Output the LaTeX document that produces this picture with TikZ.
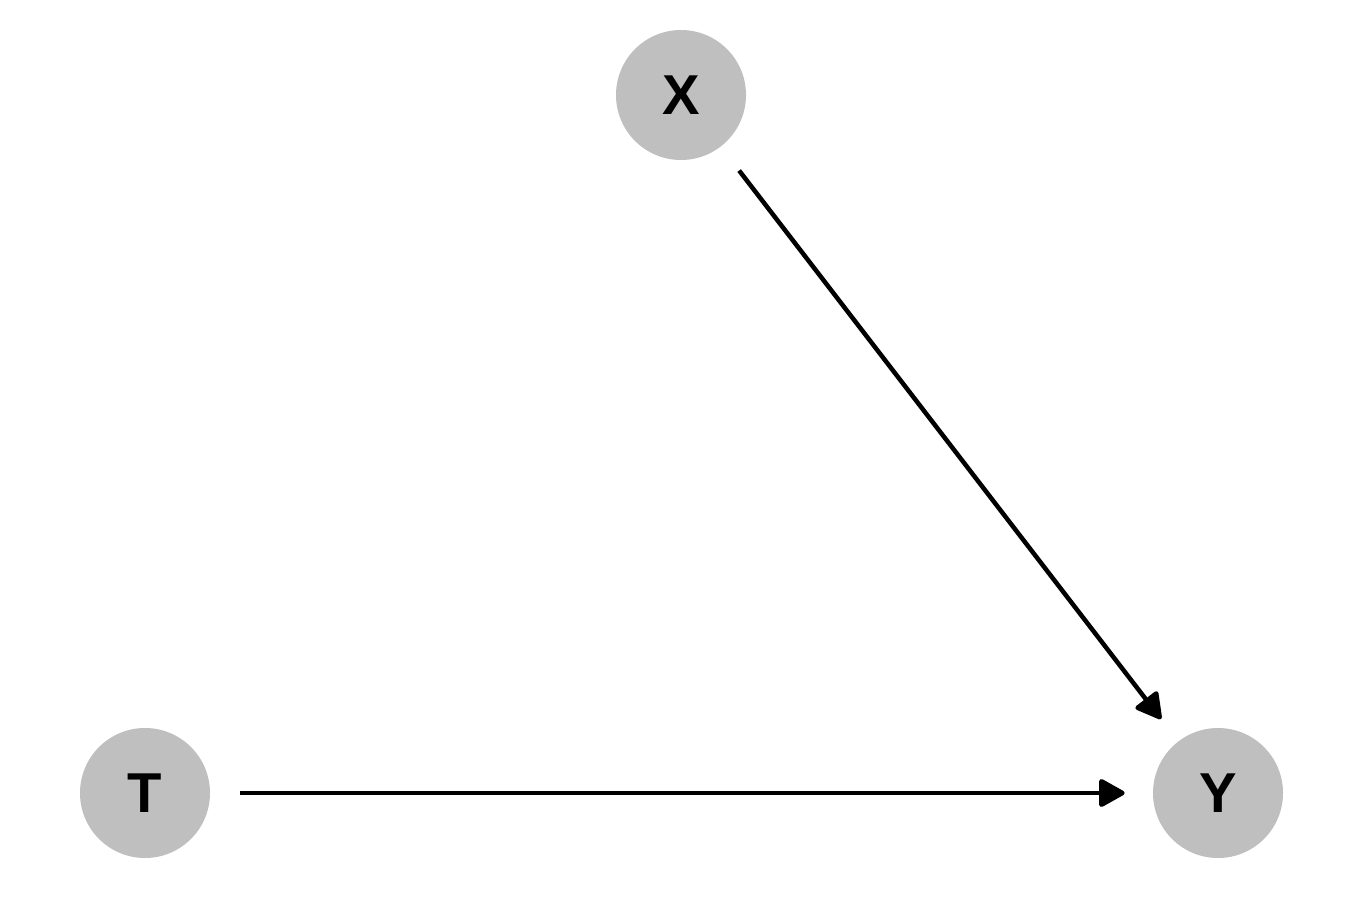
\documentclass[tikz,border=0pt]{standalone}
\usepackage{fontspec}
\setmainfont{Liberation Sans}
\usepackage{xcolor}
\usetikzlibrary{arrows.meta}

\begin{document}
\begin{tikzpicture}[x=1cm, y=1cm,
  vertex/.style={circle, fill=black!25, minimum size=2.6cm, inner sep=0pt,
                 font=\fontsize{32}{36}\selectfont\bfseries},
  arr/.style={-{Triangle[length=5.6mm, width=6mm, round]}, line width=0.09cm,
              shorten <=0.6cm, shorten >=0.56cm}
]
\useasboundingbox (0,0) rectangle (27,18);
\node[vertex] (x) at (13.62,16.1) {X};
\node[vertex] (t) at (2.9,2.14) {T};
\node[vertex] (y) at (24.36,2.14) {Y};
\draw[arr] (x) -- (y);
\draw[arr] (t) -- (y);
\end{tikzpicture}
\end{document}
